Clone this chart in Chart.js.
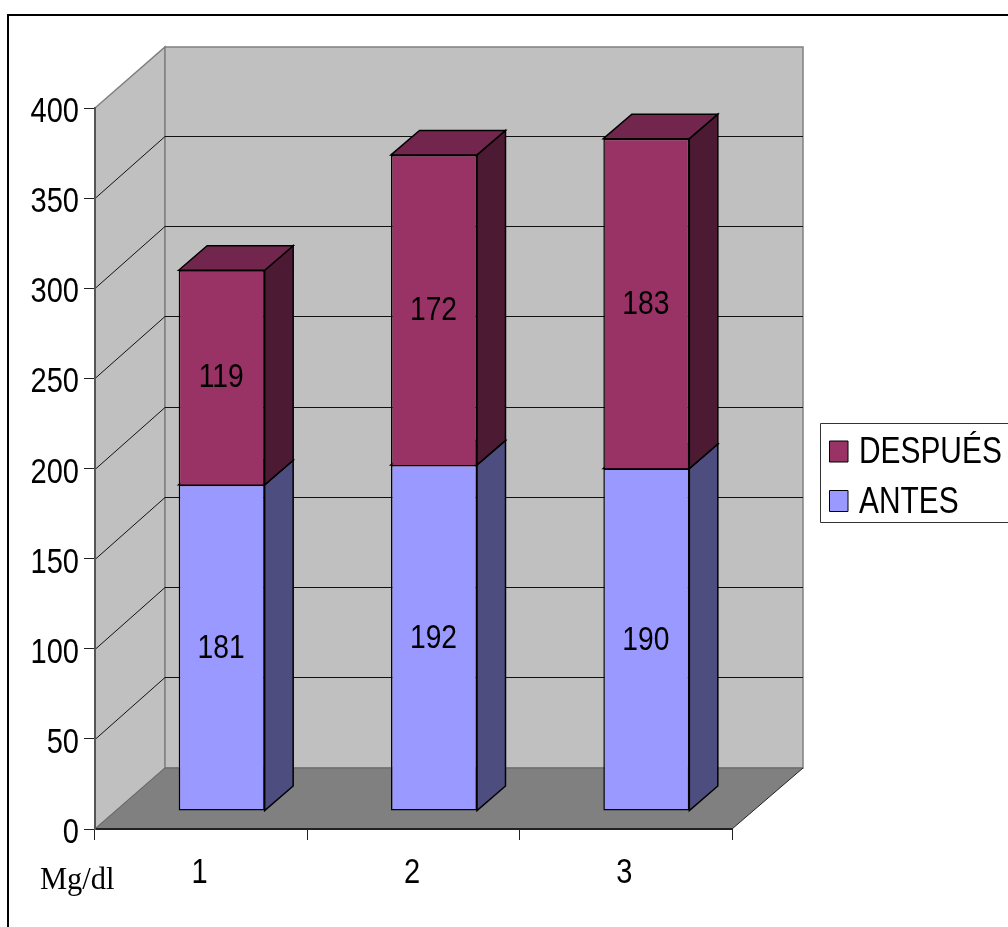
<!DOCTYPE html>
<html>
<head>
<meta charset="utf-8">
<title>Mg/dl</title>
<script src="https://cdn.jsdelivr.net/npm/chart.js@4"></script>
<style>
  html, body { margin: 0; padding: 0; background: #fff; overflow: hidden; }
  #box { width: 1008px; height: 927px; }
</style>
</head>
<body>
<div id="box"><canvas id="chart"></canvas></div>
<script>
const categories = ["1", "2", "3"];
const antes = [181, 192, 190];
const despues = [119, 172, 183];
const yMax = 400;
const yStep = 50;

// depth of the box and of the bars, in pixels
const wallDepth = { x: 70, y: -61 };
const gridRise = -62.5;
const barShift = { x: 20.5, y: -18 };
const barDepth = { x: 28.5, y: -24.5 };

const sans = "'Liberation Sans', Arial, sans-serif";
// the type is set tall and narrow, no condensed face is available
const squeeze = 0.83;

function poly(ctx, pts, fill, stroke, width) {
  ctx.beginPath();
  pts.forEach((p, i) => (i ? ctx.lineTo(p[0], p[1]) : ctx.moveTo(p[0], p[1])));
  ctx.closePath();
  if (fill) {
    ctx.fillStyle = fill;
    ctx.fill();
  }
  if (stroke) {
    ctx.strokeStyle = stroke;
    ctx.lineWidth = width || 1;
    ctx.stroke();
  }
}

function line(ctx, x1, y1, x2, y2, color, width) {
  ctx.beginPath();
  ctx.moveTo(x1, y1);
  ctx.lineTo(x2, y2);
  ctx.strokeStyle = color;
  ctx.lineWidth = width || 1;
  ctx.stroke();
}

function narrowText(ctx, text, x, y, align) {
  ctx.save();
  ctx.translate(x, y);
  ctx.scale(squeeze, 1);
  ctx.textAlign = align;
  ctx.textBaseline = "alphabetic";
  ctx.fillStyle = "#000";
  ctx.fillText(text, 0, 0);
  ctx.restore();
}

// frame, side wall, back wall, floor and the gridlines running over them
const boxPlugin = {
  id: "box3d",
  beforeDraw(chart) {
    const ctx = chart.ctx;
    const a = chart.chartArea;
    const dx = wallDepth.x;
    const dy = wallDepth.y;
    ctx.save();

    ctx.beginPath();
    ctx.moveTo(8, 927);
    ctx.lineTo(8, 15);
    ctx.lineTo(1008, 15);
    ctx.strokeStyle = "#000";
    ctx.lineWidth = 2;
    ctx.stroke();

    poly(ctx, [[a.left, a.top], [a.left + dx, a.top + dy], [a.left + dx, a.bottom + dy], [a.left, a.bottom]], "#c0c0c0", "#808080", 1.5);
    poly(ctx, [[a.left + dx, a.top + dy], [a.right + dx + 1, a.top + dy], [a.right + dx + 1, a.bottom + dy], [a.left + dx, a.bottom + dy]], "#c0c0c0", "#808080", 1.5);
    poly(ctx, [[a.left, a.bottom], [a.left + dx, a.bottom + dy], [a.right + dx + 1, a.bottom + dy], [a.right, a.bottom]], "#808080");
    line(ctx, a.left + dx, a.bottom + dy, a.right + dx + 1, a.bottom + dy, "#666", 1);
    line(ctx, a.right, a.bottom, a.right + dx + 1, a.bottom + dy, "#222", 1);
    line(ctx, a.left, a.bottom, a.left + dx, a.bottom + dy, "#666", 1);

    const y = chart.scales.y;
    for (let v = yStep; v < yMax; v += yStep) {
      const py = Math.round(y.getPixelForValue(v)) + 0.5;
      const back = Math.round(py + gridRise) + 0.5;
      line(ctx, a.left, py, a.left + dx, back, "#111", 1);
      line(ctx, a.left + dx, back, a.right + dx + 1, back, "#111", 1);
    }
    ctx.restore();
  },
  beforeDatasetsDraw(chart) {
    // the bars stand in the middle of the box, so everything of theirs is shifted
    const ctx = chart.ctx;
    ctx.save();
    ctx.translate(barShift.x, barShift.y);
    chart.data.datasets.forEach((ds, di) => {
      chart.getDatasetMeta(di).data.forEach((bar) => {
        const r = bar.x + bar.width / 2;
        const l = bar.x - bar.width / 2;
        const top = bar.y;
        const bottom = bar.base;
        const dx = barDepth.x;
        const dy = barDepth.y;
        poly(ctx, [[r, top], [r + dx, top + dy], [r + dx, bottom + dy], [r, bottom]], ds.sideColor, "#000", 1.5);
        poly(ctx, [[l, top], [l + dx, top + dy], [r + dx, top + dy], [r, top]], ds.topColor, "#000", 1.5);
      });
    });
  },
  afterDatasetsDraw(chart) {
    const ctx = chart.ctx;
    ctx.font = "34px " + sans;
    chart.data.datasets.forEach((ds, di) => {
      chart.getDatasetMeta(di).data.forEach((bar, i) => {
        narrowText(ctx, String(ds.data[i]), bar.x - 0.5, (bar.y + bar.base) / 2 + 10, "center");
      });
    });
    ctx.restore();
  },
  afterDraw(chart) {
    const ctx = chart.ctx;
    ctx.save();

    // axis labels, at the ticks the scales worked out
    ctx.font = "35px " + sans;
    const y = chart.scales.y;
    y.ticks.forEach((t, i) => {
      narrowText(ctx, t.label, 79, y.getPixelForTick(i) + 14, "right");
    });
    const x = chart.scales.x;
    x.ticks.forEach((t, i) => {
      narrowText(ctx, t.label, x.getPixelForTick(i) - 1.5, 883, "center");
    });

    // legend box, cut by the right edge of the page
    ctx.beginPath();
    ctx.rect(820.5, 423.5, 200, 99);
    ctx.strokeStyle = "#333";
    ctx.lineWidth = 1;
    ctx.stroke();
    ctx.font = "36px " + sans;
    const rows = [
      { ds: chart.data.datasets[1], y: 451.5, base: 463 },
      { ds: chart.data.datasets[0], y: 501, base: 513 },
    ];
    rows.forEach((row) => {
      poly(ctx, [[829.5, row.y - 10.5], [848, row.y - 10.5], [848, row.y + 10.5], [829.5, row.y + 10.5]], row.ds.backgroundColor, "#000", 1);
      narrowText(ctx, row.ds.label, 859, row.base, "left");
    });

    ctx.font = "30.5px 'Liberation Serif', 'Times New Roman', serif";
    ctx.fillStyle = "#000";
    ctx.textAlign = "left";
    ctx.textBaseline = "alphabetic";
    ctx.fillText("Mg/dl", 40, 889);
    ctx.restore();
  },
};

new Chart(document.getElementById("chart"), {
  type: "bar",
  data: {
    labels: categories,
    datasets: [
      {
        label: "ANTES",
        data: antes,
        backgroundColor: "#9999ff",
        sideColor: "#4d4d80",
        topColor: "#4d4d80",
        borderWidth: 1.5,
      },
      {
        label: "DESPUÉS",
        data: despues,
        backgroundColor: "#993366",
        sideColor: "#4d1a33",
        topColor: "#73264d",
        borderWidth: { top: 1.5, left: 1.5, right: 1.5, bottom: 0 },
      },
    ],
  },
  options: {
    responsive: true,
    maintainAspectRatio: false,
    animation: false,
    clip: false,
    layout: { padding: { left: 0, top: 108, right: 276, bottom: 0 } },
    datasets: {
      bar: {
        barPercentage: 0.405,
        categoryPercentage: 1,
        borderColor: "#000",
        borderSkipped: false,
      },
    },
    plugins: {
      legend: { display: false },
      title: { display: false },
      tooltip: { enabled: false },
    },
    scales: {
      x: {
        stacked: true,
        afterFit: (scale) => {
          scale.height = 98;
        },
        border: { display: true, color: "#222", width: 2 },
        grid: { drawOnChartArea: false, drawTicks: true, tickLength: 11, tickColor: "#222" },
        ticks: { display: false },
      },
      y: {
        stacked: true,
        min: 0,
        max: yMax,
        afterFit: (scale) => {
          scale.width = 95;
        },
        border: { display: true, color: "#555", width: 2 },
        grid: { drawOnChartArea: false, drawTicks: true, tickLength: 11, tickColor: "#222" },
        ticks: { display: false, stepSize: yStep, autoSkip: false },
      },
    },
  },
  plugins: [boxPlugin],
});
</script>
</body>
</html>
